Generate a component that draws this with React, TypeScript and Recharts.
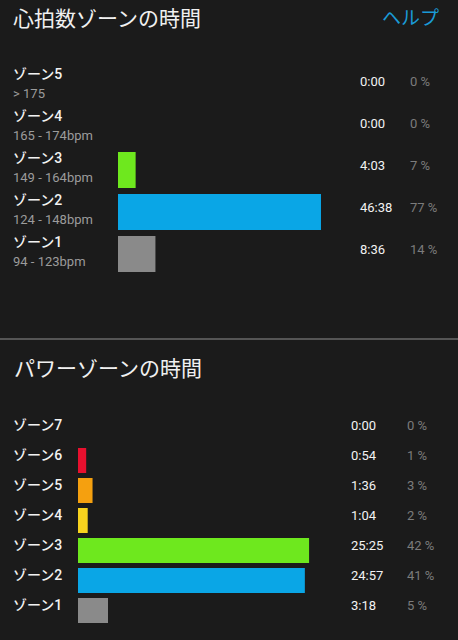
import { Bar, BarChart, Cell, XAxis, YAxis } from "recharts";

const FONT = "Roboto, 'Noto Sans CJK JP', sans-serif";

// 心拍数ゾーン (上から順)
const hrZones = ["ゾーン5", "ゾーン4", "ゾーン3", "ゾーン2", "ゾーン1"];
const hrRanges = ["> 175", "165 - 174bpm", "149 - 164bpm", "124 - 148bpm", "94 - 123bpm"];
const hrTimes = ["0:00", "0:00", "4:03", "46:38", "8:36"];
const hrSeconds = [0, 0, 243, 2798, 516];
const hrPercents = ["0 %", "0 %", "7 %", "77 %", "14 %"];
const hrColors = ["#e8102e", "#f5a00f", "#6ee81e", "#0aa6e6", "#8a8a8a"];

// パワーゾーン (上から順)
const pwZones = ["ゾーン7", "ゾーン6", "ゾーン5", "ゾーン4", "ゾーン3", "ゾーン2", "ゾーン1"];
const pwTimes = ["0:00", "0:54", "1:36", "1:04", "25:25", "24:57", "3:18"];
const pwSeconds = [0, 54, 96, 64, 1525, 1497, 198];
const pwPercents = ["0 %", "1 %", "3 %", "2 %", "42 %", "41 %", "5 %"];
const pwColors = ["#b01060", "#e8102e", "#f5a00f", "#f8d31e", "#6ee81e", "#0aa6e6", "#8a8a8a"];

const hrData = hrZones.map((zone, i) => ({
  zone,
  range: hrRanges[i],
  time: hrTimes[i],
  seconds: hrSeconds[i],
  pct: hrPercents[i],
}));

const pwData = pwZones.map((zone, i) => ({
  zone,
  time: pwTimes[i],
  seconds: pwSeconds[i],
  pct: pwPercents[i],
}));

function HrNameTick({ y, index }: any) {
  const d = hrData[index];
  return (
    <g fontFamily={FONT}>
      <text x={13} y={y - 12} dominantBaseline="central" fill="#f2f2f2" fontSize={14} fontWeight={500}>
        {d.zone}
      </text>
      <text x={13} y={y + 7} dominantBaseline="central" fill="#9c9c9c" fontSize={13}>
        {d.range}
      </text>
    </g>
  );
}

function HrValueTick({ y, index }: any) {
  const d = hrData[index];
  return (
    <g fontFamily={FONT} fontSize={13}>
      <text x={360} y={y - 5} dominantBaseline="central" fill="#f2f2f2">
        {d.time}
      </text>
      <text x={410} y={y - 5} dominantBaseline="central" fill="#7c7c7c">
        {d.pct}
      </text>
    </g>
  );
}

function PwNameTick({ y, index }: any) {
  const d = pwData[index];
  return (
    <text x={13} y={y - 5} dominantBaseline="central" fill="#f2f2f2" fontSize={14} fontWeight={500} fontFamily={FONT}>
      {d.zone}
    </text>
  );
}

function PwValueTick({ y, index }: any) {
  const d = pwData[index];
  return (
    <g fontFamily={FONT} fontSize={13}>
      <text x={351} y={y - 5} dominantBaseline="central" fill="#f2f2f2">
        {d.time}
      </text>
      <text x={407} y={y - 5} dominantBaseline="central" fill="#7c7c7c">
        {d.pct}
      </text>
    </g>
  );
}

export default function App() {
  return (
    <div
      style={{
        position: "absolute",
        left: 0,
        top: 0,
        width: 458,
        height: 640,
        background: "#1b1b1b",
        fontFamily: FONT,
        overflow: "hidden",
      }}
    >
      <div style={{ position: "absolute", left: 13, top: 4, fontSize: 21, color: "#f0f0f0", lineHeight: "30px" }}>
        心拍数ゾーンの時間
      </div>
      <div style={{ position: "absolute", left: 382, top: 4, fontSize: 19, color: "#1a9ad6", lineHeight: "30px" }}>
        ヘルプ
      </div>

      <div style={{ position: "absolute", left: 0, top: 65 }}>
        <BarChart width={458} height={210} data={hrData} layout="vertical" margin={{ top: 0, right: 0, bottom: 0, left: 0 }}>
          <XAxis type="number" hide domain={[0, 3060]} />
          <YAxis yAxisId="name" type="category" dataKey="zone" width={118} axisLine={false} tickLine={false} tick={HrNameTick} />
          <YAxis yAxisId="value" orientation="right" type="category" dataKey="zone" width={118} axisLine={false} tickLine={false} tick={HrValueTick} />
          <Bar yAxisId="name" dataKey="seconds" barSize={36} isAnimationActive={false}>
            {hrData.map((d, i) => (
              <Cell key={d.zone} fill={hrColors[i]} />
            ))}
          </Bar>
        </BarChart>
      </div>

      <div style={{ position: "absolute", left: 0, top: 338, width: 458, height: 2, background: "#555" }} />

      <div style={{ position: "absolute", left: 14, top: 354, fontSize: 21, color: "#f0f0f0", lineHeight: "30px" }}>
        パワーゾーンの時間
      </div>

      <div style={{ position: "absolute", left: 0, top: 415 }}>
        <BarChart width={458} height={210} data={pwData} layout="vertical" margin={{ top: 0, right: 0, bottom: 0, left: 0 }}>
          <XAxis type="number" hide domain={[0, 1663]} />
          <YAxis yAxisId="name" type="category" dataKey="zone" width={78} axisLine={false} tickLine={false} tick={PwNameTick} />
          <YAxis yAxisId="value" orientation="right" type="category" dataKey="zone" width={128} axisLine={false} tickLine={false} tick={PwValueTick} />
          <Bar yAxisId="name" dataKey="seconds" barSize={25} isAnimationActive={false}>
            {pwData.map((d, i) => (
              <Cell key={d.zone} fill={pwColors[i]} />
            ))}
          </Bar>
        </BarChart>
      </div>
    </div>
  );
}
